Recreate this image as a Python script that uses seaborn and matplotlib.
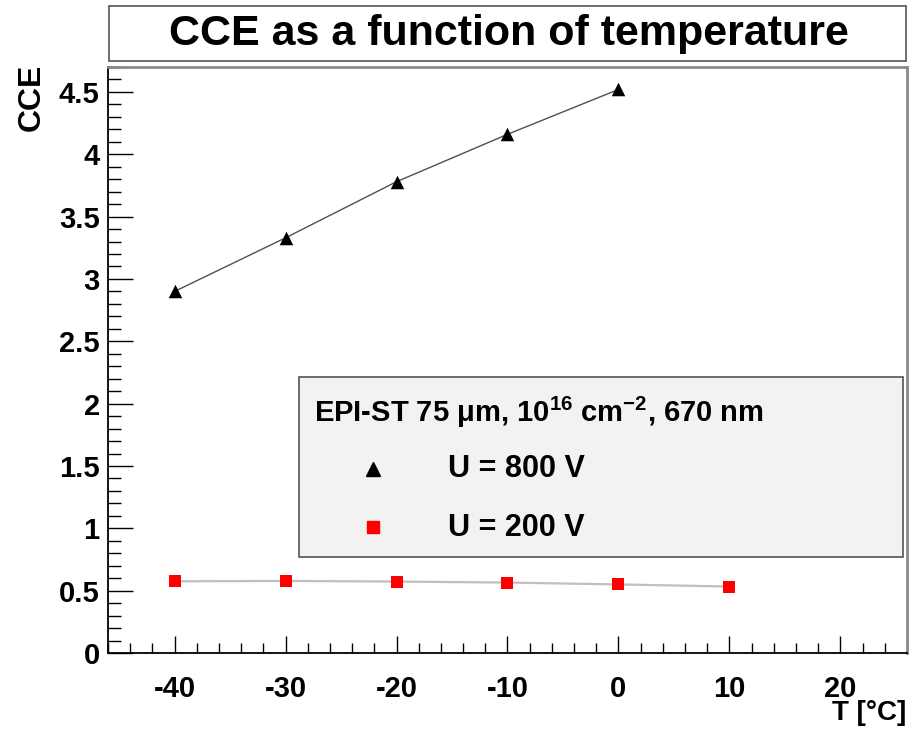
import matplotlib
matplotlib.use("Agg")
import matplotlib.pyplot as plt
from matplotlib.patches import Rectangle
from matplotlib.ticker import MultipleLocator, FuncFormatter
import seaborn as sns
import pandas as pd

# ---- data ----
temp_800 = [-40, -30, -20, -10, 0]
cce_800 = [2.90, 3.33, 3.78, 4.16, 4.52]
temp_200 = [-40, -30, -20, -10, 0, 10]
cce_200 = [0.575, 0.578, 0.573, 0.565, 0.550, 0.533]
title_text = "CCE as a function of temperature"
legend_header = r"EPI-ST 75 $\mu$m, 10$^{16}$ cm$^{-2}$, 670 nm"
label_800 = "U = 800 V"
label_200 = "U = 200 V"

sns.set_style("white")
plt.rcParams["font.family"] = ["Liberation Sans", "DejaVu Sans"]
plt.rcParams["font.weight"] = "bold"
plt.rcParams["text.color"] = "black"
plt.rcParams["xtick.color"] = "black"
plt.rcParams["ytick.color"] = "black"
plt.rcParams["axes.unicode_minus"] = False
plt.rcParams["mathtext.fontset"] = "custom"
plt.rcParams["mathtext.rm"] = "Liberation Sans:bold"
plt.rcParams["mathtext.it"] = "Liberation Sans:bold"
plt.rcParams["mathtext.bf"] = "Liberation Sans:bold"

df800 = pd.DataFrame({"T": temp_800, "CCE": cce_800})
df200 = pd.DataFrame({"T": temp_200, "CCE": cce_200})

W, H = 910, 730
fig = plt.figure(figsize=(W / 100, H / 100), dpi=100)
ax = fig.add_axes([108 / W, 1 - 653 / H, 799 / W, 586 / H])

sns.lineplot(data=df800, x="T", y="CCE", ax=ax, color="#505050", lw=1.0, zorder=2)
sns.lineplot(data=df200, x="T", y="CCE", ax=ax, color="#c0c0c0", lw=1.6, zorder=2)
sns.scatterplot(data=df800, x="T", y="CCE", ax=ax, marker="^", s=95, color="black",
                edgecolor="black", linewidth=0, zorder=3)
sns.scatterplot(data=df200, x="T", y="CCE", ax=ax, marker="s", s=75, color="#ff0000",
                edgecolor="#ff0000", linewidth=0, zorder=3)

ax.set_xlim(-46, 26)
ax.set_ylim(0, 4.7)
ax.set_xlabel("")
ax.set_ylabel("")

ax.xaxis.set_major_locator(MultipleLocator(10))
ax.xaxis.set_minor_locator(MultipleLocator(2))
ax.yaxis.set_major_locator(MultipleLocator(0.5))
ax.yaxis.set_minor_locator(MultipleLocator(0.1))
ax.yaxis.set_major_formatter(FuncFormatter(lambda v, p: f"{v:g}"))
ax.xaxis.set_major_formatter(FuncFormatter(lambda v, p: f"{v:g}"))

ax.tick_params(axis="x", which="major", direction="in", length=12.5, width=1.0,
               labelsize=21, pad=16, bottom=True, top=False)
ax.tick_params(axis="x", which="minor", direction="in", length=7, width=1.0,
               bottom=True, top=False)
ax.tick_params(axis="y", which="major", direction="in", length=18, width=1.0,
               labelsize=21, pad=6, left=True, right=False)
ax.tick_params(axis="y", which="minor", direction="in", length=9.5, width=1.0,
               left=True, right=False)
for lab in ax.get_xticklabels() + ax.get_yticklabels():
    lab.set_fontweight("bold")

for s in ["left", "bottom"]:
    ax.spines[s].set_color("black")
    ax.spines[s].set_linewidth(1.3)
for s in ["top", "right"]:
    ax.spines[s].set_color("#8a8a8a")
    ax.spines[s].set_linewidth(2.0)

# legend box (manual, ROOT style)
ax.add_patch(Rectangle((0.239, 0.164), 0.756, 0.307, transform=ax.transAxes,
                       facecolor="#f2f2f2", edgecolor="#555555", lw=1.2, zorder=4))
ax.text(0.258, 0.411, legend_header, transform=ax.transAxes, fontsize=21,
        fontweight="bold", va="center", ha="left", zorder=5)
ax.plot([0.3317], [0.314], transform=ax.transAxes, marker="^", ms=9.5, color="black",
        ls="none", zorder=5, clip_on=False)
ax.plot([0.3317], [0.215], transform=ax.transAxes, marker="s", ms=8, color="#ff0000",
        ls="none", zorder=5, clip_on=False)
ax.text(0.4255, 0.314, label_800, transform=ax.transAxes, fontsize=22,
        fontweight="bold", va="center", ha="left", zorder=5)
ax.text(0.4255, 0.213, label_200, transform=ax.transAxes, fontsize=22,
        fontweight="bold", va="center", ha="left", zorder=5)

# title box
fig.patches.append(Rectangle((109 / W, 1 - 61 / H), 797 / W, 55 / H, transform=fig.transFigure,
                             facecolor="white", edgecolor="#555555", lw=1.2))
fig.text(509 / W, 1 - 34 / H, title_text, fontsize=31, fontweight="bold",
         ha="center", va="center")

# axis labels
fig.text(32 / W, 1 - 64 / H, "CCE", rotation=90, fontsize=23, fontweight="bold",
         ha="center", va="top")
fig.text(906 / W, 1 - 713 / H, "T [°C]", fontsize=20, fontweight="bold",
         ha="right", va="center")

fig.savefig("out.png", dpi=100)
